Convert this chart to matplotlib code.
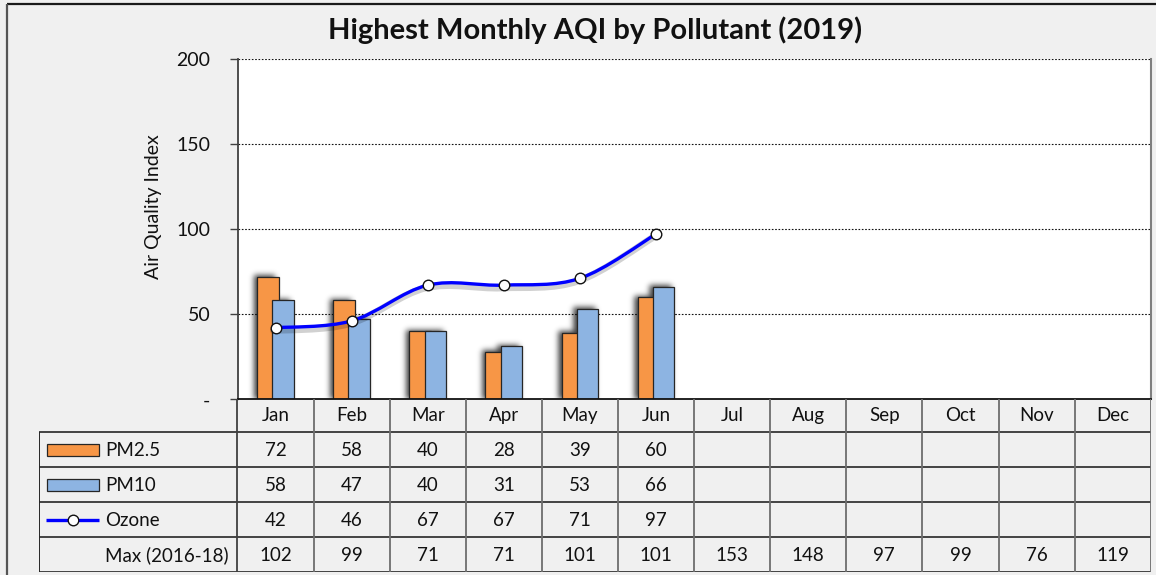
import numpy as np
import matplotlib
matplotlib.use("Agg")
import matplotlib.pyplot as plt
from matplotlib.path import Path
from matplotlib.patches import PathPatch, Rectangle
import matplotlib.patheffects as pe

plt.rcParams['font.family'] = ['Lato', 'DejaVu Sans']

# ---- data ----
months = ["Jan", "Feb", "Mar", "Apr", "May", "Jun",
          "Jul", "Aug", "Sep", "Oct", "Nov", "Dec"]
pm25 = [72, 58, 40, 28, 39, 60]
pm10 = [58, 47, 40, 31, 53, 66]
ozone = [42, 46, 67, 67, 71, 97]
max_2016_18 = [102, 99, 71, 71, 101, 101, 153, 148, 97, 99, 76, 119]
series_names = ["PM2.5", "PM10", "Ozone", "Max (2016-18)"]
yticks = [0, 50, 100, 150, 200]
ytick_labels = ["-", "50", "100", "150", "200"]

title = "Highest Monthly AQI by Pollutant (2019)"
ylabel = "Air Quality Index"

# ---- style ----
BG = "#F0F0F0"
ORANGE = "#F79646"
BLUE = "#8DB4E2"
LINE_BLUE = "#0000FF"
EDGE = "#262626"
HLINE = "#262626"
VLINE = "#6E6E6E"

FW, FH = 1156, 575
fig = plt.figure(figsize=(FW / 100, FH / 100), dpi=100, facecolor=BG)


def px_rect(x0, y0, x1, y1):
    """Figure-fraction rectangle from pixel edges (y measured from top)."""
    return [x0 / FW, 1 - y1 / FH, (x1 - x0) / FW, (y1 - y0) / FH]


# frame of the chart area
frame = fig.add_axes([0, 0, 1, 1], zorder=-5)
frame.set_xlim(0, FW)
frame.set_ylim(FH, 0)
frame.axis("off")
frame.plot([7, FW], [4.3, 4.3], color="#1a1a1a", lw=1.6, solid_capstyle="butt")
frame.plot([7, 7], [4.3, FH], color="#555555", lw=1.6, solid_capstyle="butt")

# ---- main plot ----
PL, PR, PT, PB = 237.5, 1150.7, 58.5, 399.3
ax = fig.add_axes(px_rect(PL, PT, PR, PB))
ax.set_facecolor("white")
ax.set_xlim(-0.5, 11.5)
ax.set_ylim(0, 200)
ax.set_axisbelow(True)

x = np.arange(len(months))
n = len(pm25)
bw = 0.284
off = 0.1

ax.set_yticks(yticks)
ax.set_yticklabels(ytick_labels, fontsize=14, color="#111111")
ax.tick_params(axis="y", direction="out", length=6, width=1, color="#404040", pad=13.5)
ax.set_xticks([])
for v in yticks[1:]:
    ax.axhline(v, color="#111111", lw=0.8, ls=(0, (1.5, 1.5)), zorder=0.5)

ax.spines["top"].set_visible(False)
ax.spines["left"].set_color("#404040")
ax.spines["left"].set_linewidth(1.3)
ax.spines["bottom"].set_color("#111111")
ax.spines["bottom"].set_linewidth(1.3)
ax.spines["right"].set_color("#7F7F7F")
ax.spines["right"].set_linewidth(1.5)

# soft shadows behind the bars
bb = ax.bbox
Wp, Hp = int(round(bb.width)), int(round(bb.height))
mask = np.zeros((Hp, Wp))
sh_dx, sh_dy = -4, -1
for xs, vals in ((x[:n] - off, pm25), (x[:n] + off, pm10)):
    for xc, v in zip(xs, vals):
        (dx0, dy0) = ax.transData.transform((xc - bw / 2, 0))
        (dx1, dy1) = ax.transData.transform((xc + bw / 2, v))
        c0 = int(round(dx0 - bb.x0 + sh_dx)); c1 = int(round(dx1 - bb.x0 + sh_dx))
        r0 = int(round(bb.y1 - dy1 + sh_dy)); r1 = int(round(bb.y1 - dy0 + 6))
        mask[max(r0, 0):max(r1, 0), max(c0, 0):max(c1, 0)] = 1.0
sig = 2.8
k = np.arange(-10, 11)
g = np.exp(-k ** 2 / (2 * sig ** 2)); g /= g.sum()
mask = np.apply_along_axis(lambda r: np.convolve(r, g, mode="same"), 1, mask)
mask = np.apply_along_axis(lambda c: np.convolve(c, g, mode="same"), 0, mask)
rgba = np.zeros((Hp, Wp, 4))
rgba[..., 3] = np.clip(mask * 0.75, 0, 1)
ax.imshow(rgba, extent=(-0.5, 11.5, 0, 200), aspect="auto", zorder=1,
          interpolation="bilinear", origin="upper")
ax.set_xlim(-0.5, 11.5)
ax.set_ylim(0, 200)

ax.bar(x[:n] - off, pm25, width=bw, color=ORANGE, edgecolor=EDGE, linewidth=0.9, zorder=2)
ax.bar(x[:n] + off, pm10, width=bw, color=BLUE, edgecolor=EDGE, linewidth=0.9, zorder=2.1)

# smoothed ozone line (Catmull-Rom style Bezier segments)
pts = np.column_stack([x[:n], ozone]).astype(float)
verts = [tuple(pts[0])]
codes = [Path.MOVETO]
for i in range(len(pts) - 1):
    p0 = pts[i - 1] if i > 0 else pts[i]
    p1, p2 = pts[i], pts[i + 1]
    p3 = pts[i + 2] if i + 2 < len(pts) else pts[i + 1]
    c1 = p1 + (p2 - p0) / 6.0
    c2 = p2 - (p3 - p1) / 6.0
    verts += [tuple(c1), tuple(c2), tuple(p2)]
    codes += [Path.CURVE4] * 3
curve = PathPatch(Path(verts, codes), facecolor="none", edgecolor=LINE_BLUE, lw=2.4,
                  zorder=3, capstyle="round",
                  path_effects=[pe.SimpleLineShadow(offset=(-1.5, -2.0), shadow_color="black",
                                                    alpha=0.18, linewidth=5),
                                pe.Normal()])
ax.add_patch(curve)
ax.plot(x[:n], ozone, ls="none", marker="o", ms=7.6, mfc="white", mec="#111111",
        mew=1.0, zorder=4)

fig.text(153 / FW, 1 - 207 / FH, ylabel, rotation=90, ha="center", va="center",
         fontsize=14, color="#111111")

fig.text(595.5 / FW, 1 - 30 / FH, title, ha="center", va="center",
         fontsize=21, fontweight="bold", color="#111111")

# ---- data table ----
TL = 39.0
rows_px = [0, 33, 68, 103, 138, 173]  # row edges below the plot bottom
unit = (PR - PL) / 12.0
xl = -0.5 - (PL - TL) / unit
tx = fig.add_axes(px_rect(TL, PB, PR, PB + rows_px[-1]))
tx.set_xlim(xl, 11.5)
tx.set_ylim(rows_px[-1], 0)
tx.axis("off")
tx.patch.set_visible(False)

for yv in rows_px[1:]:
    tx.plot([xl, 11.5], [yv, yv], color=HLINE, lw=1.2, solid_capstyle="butt")
tx.plot([xl, xl], [rows_px[1], rows_px[-1]], color=HLINE, lw=1.4, solid_capstyle="butt")
for b in np.arange(-0.5, 12.0, 1.0):
    col = "#404040" if b == -0.5 else VLINE
    tx.plot([b, b], [0, rows_px[-1]], color=col, lw=1.3, solid_capstyle="butt")

fs = 13.5
for i, m in enumerate(months):
    tx.text(i, (rows_px[0] + rows_px[1]) / 2, m, ha="center", va="center",
            fontsize=fs, color="#111111")

table_rows = [pm25, pm10, ozone, max_2016_18]
for r, vals in enumerate(table_rows):
    yc = (rows_px[r + 1] + rows_px[r + 2]) / 2
    for i, v in enumerate(vals):
        tx.text(i, yc + 0.5, str(v), ha="center", va="center", fontsize=fs, color="#111111")
    tx.text(xl + (105 - TL) / unit, yc + 0.5, series_names[r], ha="left", va="center",
            fontsize=fs, color="#111111")

# legend keys inside the table
k0 = xl + (47 - TL) / unit
k1 = xl + (99 - TL) / unit
for r, colr in ((0, ORANGE), (1, BLUE)):
    yc = (rows_px[r + 1] + rows_px[r + 2]) / 2
    tx.add_patch(Rectangle((k0, yc - 6.3), k1 - k0, 12.6, facecolor=colr,
                           edgecolor=EDGE, lw=0.9))
yc = (rows_px[3] + rows_px[4]) / 2
tx.plot([xl + (46 - TL) / unit, k1], [yc, yc], color=LINE_BLUE, lw=2.4,
        solid_capstyle="butt")
tx.plot([(k0 + k1) / 2], [yc], marker="o", ms=7.6, mfc="white", mec="#111111", mew=1.0)

fig.savefig("out.png", dpi=100, facecolor=BG)
